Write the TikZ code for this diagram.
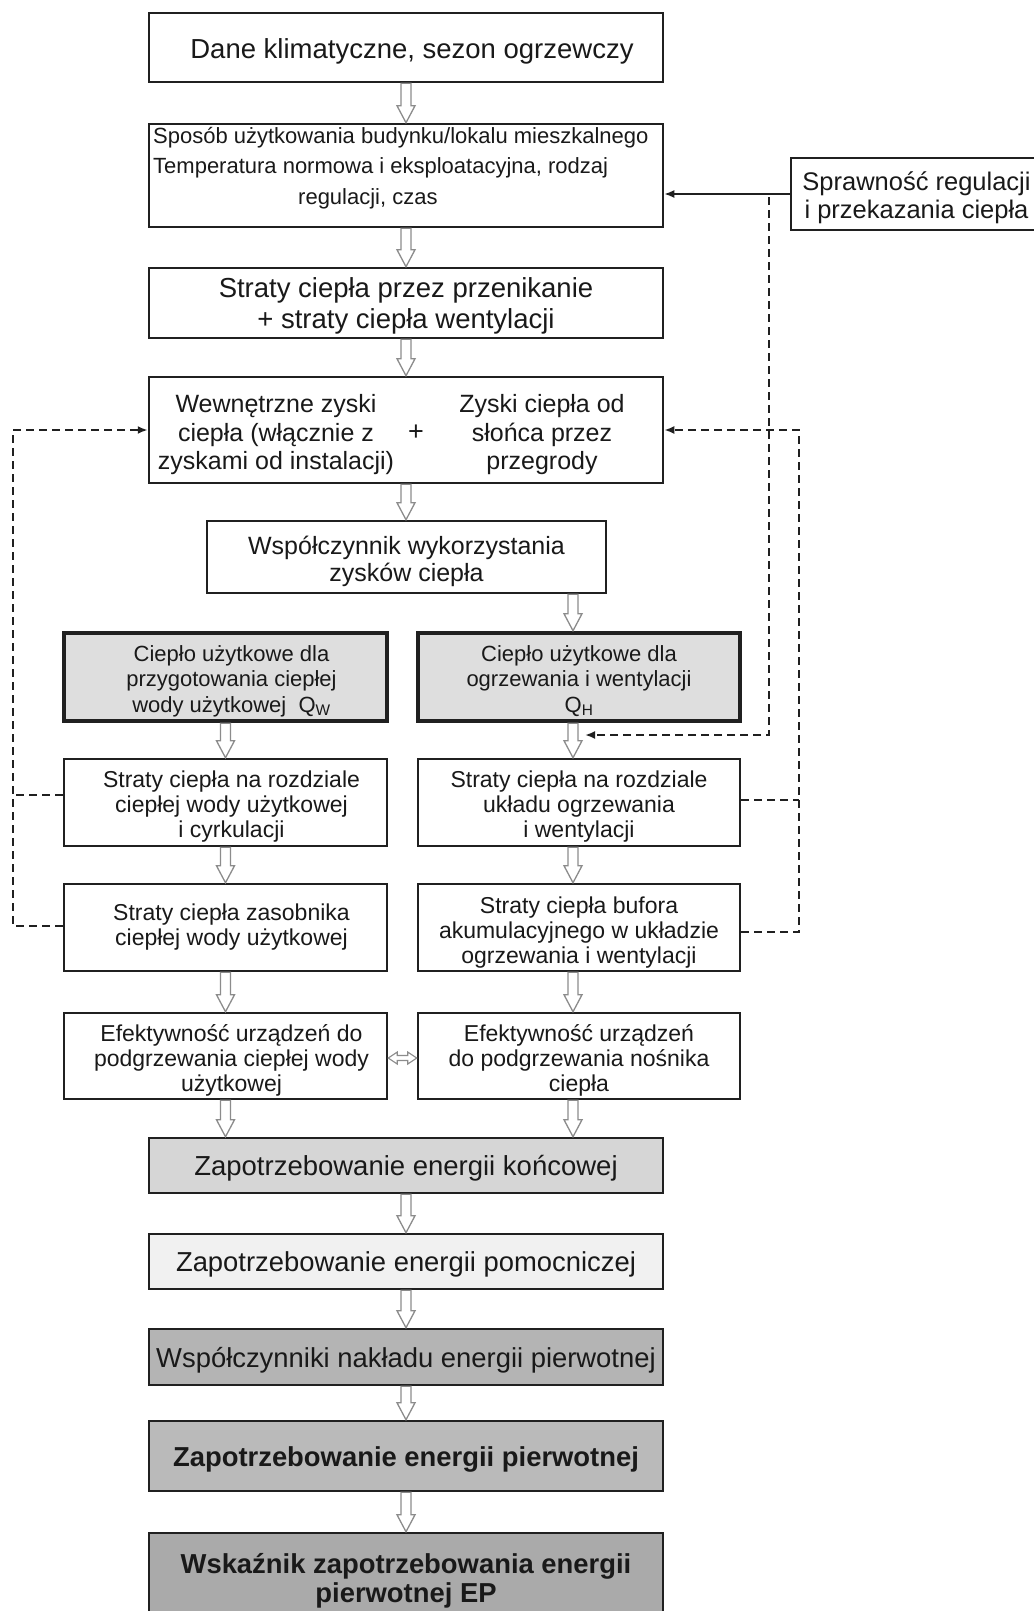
\documentclass[tikz,border=0pt]{standalone}
\usepackage{fontspec}
\setmainfont{Liberation Sans}
\usetikzlibrary{calc,arrows.meta}
\definecolor{bordc}{HTML}{202020}
\definecolor{holc}{HTML}{8C8C8C}
\definecolor{fsix}{HTML}{DEDEDE}
\definecolor{ften}{HTML}{D6D6D6}
\definecolor{felev}{HTML}{F1F1F1}
\definecolor{ftwel}{HTML}{B4B4B4}
\definecolor{fthir}{HTML}{BABABA}
\definecolor{ffour}{HTML}{AAAAAA}
\tikzset{
  box/.style={draw=bordc, line width=2.5pt, fill=white, inner sep=0pt},
  thickbox/.style={box, line width=4.5pt, fill=fsix},
  txt/.style={align=center, inner sep=0pt, text=black!90},
  hol/.style={draw=holc, fill=white, line width=1.3pt, line join=miter,
    to path={let \p1=(\tikztostart), \p2=(\tikztotarget) in
      (\x1-5pt,\y1) -- (\x1+5pt,\y1) -- (\x1+5pt,\y2+17pt) -- (\x1+9pt,\y2+17pt)
      -- (\x1,\y2) -- (\x1-9pt,\y2+17pt) -- (\x1-5pt,\y2+17pt) -- cycle}},
  holdbl/.style={draw=holc, fill=white, line width=1.1pt,
    to path={let \p1=(\tikztostart), \p2=(\tikztotarget) in
      (\x1,\y1) -- (\x1+9pt,\y1+6pt) -- (\x1+9pt,\y1+2.5pt) -- (\x2-9pt,\y1+2.5pt)
      -- (\x2-9pt,\y1+6pt) -- (\x2,\y1) -- (\x2-9pt,\y1-6pt) -- (\x2-9pt,\y1-2.5pt)
      -- (\x1+9pt,\y1-2.5pt) -- (\x1+9pt,\y1-6pt) -- cycle}},
  dsh/.style={draw=bordc, line width=2.8pt, dash pattern=on 8pt off 5pt},
  arr/.style={-{Latex[length=10pt,width=8pt]}},
}
\begin{document}
\begin{tikzpicture}[x=1pt,y=-1pt]
\useasboundingbox[fill=white] (0,0) rectangle (1033,1611);

% main column boxes
\node[box, minimum width=514, minimum height=69] (b1) at (406,47.5) {};
\node[box, minimum width=514, minimum height=103] (b2) at (406,175.5) {};
\node[box, minimum width=251, minimum height=72] (bs) at (916.5,194) {};
\node[box, minimum width=514, minimum height=70] (b3) at (406,303) {};
\node[box, minimum width=514, minimum height=106] (b4) at (406,430) {};
\node[box, minimum width=399, minimum height=72] (b5) at (406.5,557) {};

% two columns
\node[thickbox, minimum width=323, minimum height=88] (b6L) at (225.5,677) {};
\node[thickbox, minimum width=322, minimum height=88] (b6R) at (579,677) {};
\node[box, minimum width=323, minimum height=87] (b7L) at (225.5,802.5) {};
\node[box, minimum width=322, minimum height=87] (b7R) at (579,802.5) {};
\node[box, minimum width=323, minimum height=87] (b8L) at (225.5,927.5) {};
\node[box, minimum width=322, minimum height=87] (b8R) at (579,927.5) {};
\node[box, minimum width=323, minimum height=86] (b9L) at (225.5,1056) {};
\node[box, minimum width=322, minimum height=86] (b9R) at (579,1056) {};

% bottom column
\node[box, fill=ften, minimum width=514, minimum height=55] (b10) at (406,1165.5) {};
\node[box, fill=felev, minimum width=514, minimum height=55] (b11) at (406,1261.5) {};
\node[box, fill=ftwel, minimum width=514, minimum height=56] (b12) at (406,1357) {};
\node[box, fill=fthir, minimum width=514, minimum height=70] (b13) at (406,1456) {};
\node[box, fill=ffour, minimum width=514, minimum height=80] (b14) at (406,1573) {};

% texts
\node[txt, font=\fontsize{27.5}{31}\selectfont] (t1) at ([xshift=6pt,yshift=-3.5pt]b1.center) {Dane klimatyczne, sezon ogrzewczy};
\node[txt, align=left, anchor=north west, font=\fontsize{22}{30.5}\selectfont] (t2) at (153,127)
  {Sposób użytkowania budynku/lokalu mieszkalnego\\Temperatura normowa i eksploatacyjna, rodzaj\\\hspace*{145pt}regulacji, czas};
\node[txt, font=\fontsize{25.5}{28}\selectfont] (ts) at ([yshift=-4pt]bs.center) {Sprawność regulacji\\i przekazania ciepła};
\node[txt, font=\fontsize{27.5}{31}\selectfont] (t3) at ([yshift=-2.5pt]b3.center) {Straty ciepła przez przenikanie\\+ straty ciepła wentylacji};
\node[txt, font=\fontsize{25}{28.5}\selectfont] (t4l) at (276,435) {Wewnętrzne zyski\\ciepła (włącznie z\\zyskami od instalacji)};
\node[txt, font=\fontsize{27}{28}\selectfont] (t4p) at (416,433) {+};
\node[txt, font=\fontsize{25}{28.5}\selectfont] (t4r) at (542,435) {Zyski ciepła od\\słońca przez\\przegrody};
\node[txt, font=\fontsize{25}{27}\selectfont] (t5) at ([yshift=-4pt]b5.center) {Współczynnik wykorzystania\\zysków ciepła};

\node[txt, font=\fontsize{22}{25.5}\selectfont] (t6L) at ([xshift=6pt,yshift=-4pt]b6L.center)
  {Ciepło użytkowe dla\\przygotowania ciepłej\\wody użytkowej\ \ Q\textsubscript{W}};
\node[txt, font=\fontsize{22}{25.5}\selectfont] (t6R) at ([yshift=-4pt]b6R.center)
  {Ciepło użytkowe dla\\ogrzewania i wentylacji\\Q\textsubscript{H}};
\node[txt, font=\fontsize{23}{25}\selectfont] (t7L) at ([xshift=6pt,yshift=-4.5pt]b7L.center)
  {Straty ciepła na rozdziale\\ciepłej wody użytkowej\\i cyrkulacji};
\node[txt, font=\fontsize{23}{25}\selectfont] (t7R) at ([yshift=-4.5pt]b7R.center)
  {Straty ciepła na rozdziale\\układu ogrzewania\\i wentylacji};
\node[txt, font=\fontsize{23}{25}\selectfont] (t8L) at ([xshift=6pt]b8L.center)
  {Straty ciepła zasobnika\\ciepłej wody użytkowej};
\node[txt, font=\fontsize{23}{25}\selectfont] (t8R) at ([yshift=-5pt]b8R.center)
  {Straty ciepła bufora\\akumulacyjnego w układzie\\ogrzewania i wentylacji};
\node[txt, font=\fontsize{23}{25}\selectfont] (t9L) at ([xshift=6pt,yshift=-4pt]b9L.center)
  {Efektywność urządzeń do\\podgrzewania ciepłej wody\\użytkowej};
\node[txt, font=\fontsize{23}{25}\selectfont] (t9R) at ([yshift=-4pt]b9R.center)
  {Efektywność urządzeń\\do podgrzewania nośnika\\ciepła};

\node[txt, font=\fontsize{27.5}{31}\selectfont] (t10) at ([yshift=-3pt]b10.center) {Zapotrzebowanie energii końcowej};
\node[txt, font=\fontsize{27.4}{31}\selectfont] (t11) at ([yshift=-3pt]b11.center) {Zapotrzebowanie energii pomocniczej};
\node[txt, font=\fontsize{27.4}{31}\selectfont] (t12) at ([yshift=-3.5pt]b12.center) {Współczynniki nakładu energii pierwotnej};
\node[txt, font=\bfseries\fontsize{27.4}{31}\selectfont] (t13) at ([yshift=-3pt]b13.center) {Zapotrzebowanie energii pierwotnej};
\node[txt, font=\bfseries\fontsize{27.4}{29}\selectfont] (t14) at ([yshift=-8pt]b14.center) {Wskaźnik zapotrzebowania energii\\pierwotnej EP};

% hollow block arrows
\coordinate (rc) at (573,0);
\draw[hol] (b1.south) to (b2.north);
\draw[hol] (b2.south) to (b3.north);
\draw[hol] (b3.south) to (b4.north);
\draw[hol] (b4.south) to (b5.north);
\draw[hol] (rc |- b5.south) to (rc |- b6R.north);
\draw[hol] (b6L.south) to (b7L.north);
\draw[hol] (b7L.south) to (b8L.north);
\draw[hol] (b8L.south) to (b9L.north);
\draw[hol] (b9L.south) to (b9L.south |- b10.north);
\draw[hol] (rc |- b6R.south) to (rc |- b7R.north);
\draw[hol] (rc |- b7R.south) to (rc |- b8R.north);
\draw[hol] (rc |- b8R.south) to (rc |- b9R.north);
\draw[hol] (rc |- b9R.south) to (rc |- b10.north);
\draw[hol] (b10.south) to (b11.north);
\draw[hol] (b11.south) to (b12.north);
\draw[hol] (b12.south) to (b13.north);
\draw[hol] (b13.south) to (b14.north);
\coordinate (dy) at (0,1058);
\draw[holdbl] (b9L.east |- dy) to (b9R.west |- dy);

% solid connector from Sprawnosc
\draw[draw=bordc, line width=1.8pt, arr] (bs.west) -- (bs.west -| b2.east);

% dashed connectors
\coordinate (S) at (769,197);
\coordinate (Q) at (585,735);
\draw[dsh, line width=2.2pt, arr] (S) |- (Q);

\coordinate (L) at (13,430);
\draw[dsh, arr] ([yshift=1.5pt]b8L.west) -| (L) -- (b4.west);
\draw[dsh] ([yshift=7.5pt]b7L.west) -- ([yshift=7.5pt]b7L.west -| L);

\coordinate (R) at (799,430);
\draw[dsh, arr] ([yshift=-4.5pt]b8R.east) -| (R) -- (b4.east);
\draw[dsh] ([yshift=2.5pt]b7R.east) -- ([yshift=2.5pt]b7R.east -| R);
\end{tikzpicture}
\end{document}
